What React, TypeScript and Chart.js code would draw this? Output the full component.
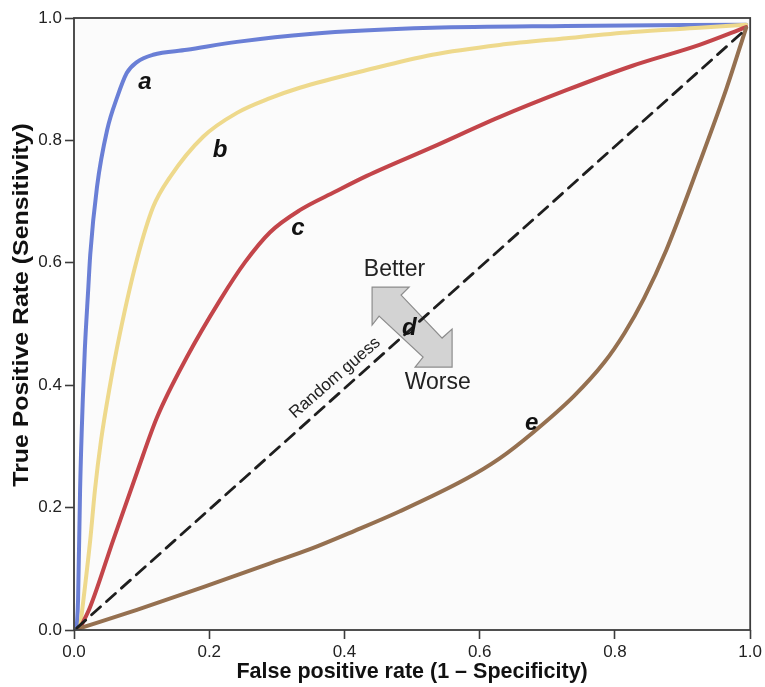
import React, { useEffect, useRef } from "react";
import { Chart, registerables } from "chart.js";

Chart.register(...registerables);

// Tick values / labels
const tickValues = [0, 0.2, 0.4, 0.6, 0.8, 1.0];
const tickLabels = ["0.0", "0.2", "0.4", "0.6", "0.8", "1.0"];

// Curve a (blue)
const fprA = [0.004, 0.006, 0.009, 0.013, 0.016, 0.021, 0.024, 0.034, 0.049, 0.064, 0.078, 0.093, 0.117, 0.167, 0.241, 0.349, 0.53, 0.728, 0.994];
const tprA = [0.003, 0.049, 0.229, 0.376, 0.458, 0.556, 0.613, 0.724, 0.817, 0.871, 0.91, 0.928, 0.94, 0.948, 0.961, 0.974, 0.984, 0.987, 0.989];

// Curve b (yellow)
const fprB = [0.009, 0.024, 0.031, 0.04, 0.052, 0.068, 0.093, 0.117, 0.142, 0.191, 0.241, 0.29, 0.334, 0.433, 0.53, 0.629, 0.728, 0.826, 0.925, 0.994];
const tprB = [0.003, 0.147, 0.229, 0.31, 0.392, 0.485, 0.605, 0.691, 0.74, 0.806, 0.845, 0.869, 0.886, 0.915, 0.94, 0.956, 0.967, 0.977, 0.984, 0.989];

// Curve c (red)
const fprC = [0.009, 0.024, 0.058, 0.093, 0.123, 0.167, 0.216, 0.253, 0.29, 0.334, 0.386, 0.433, 0.53, 0.629, 0.728, 0.826, 0.925, 0.994];
const tprC = [0.003, 0.038, 0.147, 0.257, 0.348, 0.446, 0.539, 0.601, 0.65, 0.686, 0.716, 0.742, 0.789, 0.838, 0.882, 0.922, 0.956, 0.985];

// Curve e (brown)
const fprE = [0.009, 0.093, 0.191, 0.29, 0.349, 0.415, 0.482, 0.58, 0.629, 0.678, 0.74, 0.784, 0.814, 0.843, 0.876, 0.925, 0.965, 0.994];
const tprE = [0.003, 0.033, 0.07, 0.109, 0.132, 0.162, 0.194, 0.247, 0.28, 0.322, 0.383, 0.437, 0.485, 0.542, 0.621, 0.763, 0.885, 0.984];

// Random guess line (d)
const fprD = [0.004, 0.994];
const tprD = [0.003, 0.982];

// Annotations (data coordinates)
const curveLabels = ["a", "b", "c", "d", "e"];
const curveLabelX = [0.105, 0.216, 0.331, 0.496, 0.677];
const curveLabelY = [0.895, 0.784, 0.657, 0.493, 0.337];
const arrowCenter = [0.5, 0.495];
const betterPos = [0.474, 0.588];
const worsePos = [0.538, 0.404];
const randomGuessPos = [0.386, 0.412];

const xTitle = "False positive rate (1 – Specificity)";
const yTitle = "True Positive Rate (Sensitivity)";

const toPoints = (xs: number[], ys: number[]) => xs.map((x, i) => ({ x, y: ys[i] }));

const FONT = "'Liberation Sans', Arial, Helvetica, sans-serif";

const annotPlugin = {
  id: "annot",
  beforeDraw(chart: any) {
    const { ctx, chartArea } = chart;
    const { left, top, right, bottom } = chartArea;
    ctx.save();
    ctx.fillStyle = "#ffffff";
    ctx.fillRect(0, 0, chart.width, chart.height);
    ctx.fillStyle = "#fbfbfb";
    ctx.fillRect(left, top, right - left, bottom - top);
    ctx.restore();
  },
  beforeDatasetsDraw(chart: any) {
    const { ctx, scales } = chart;
    const cx = scales.x.getPixelForValue(arrowCenter[0]);
    const cy = scales.y.getPixelForValue(arrowCenter[1]);
    const shape = [
      [-40, -40], [-3, -40], [-11, -32], [30, 11], [40, 2], [40, 40],
      [3, 40], [11, 30], [-33, -11], [-40, -2],
    ];
    ctx.save();
    ctx.beginPath();
    shape.forEach(([dx, dy], i) => {
      if (i === 0) ctx.moveTo(cx + dx, cy + dy);
      else ctx.lineTo(cx + dx, cy + dy);
    });
    ctx.closePath();
    ctx.fillStyle = "#d3d3d3";
    ctx.fill();
    ctx.strokeStyle = "#8c8c8c";
    ctx.lineWidth = 1.2;
    ctx.stroke();
    ctx.restore();
  },
  afterDatasetsDraw(chart: any) {
    const { ctx, scales } = chart;
    const px = (v: number) => scales.x.getPixelForValue(v);
    const py = (v: number) => scales.y.getPixelForValue(v);
    ctx.save();
    ctx.fillStyle = "#111";
    ctx.textAlign = "center";
    ctx.textBaseline = "middle";
    ctx.font = `italic bold 24px ${FONT}`;
    curveLabels.forEach((t, i) => {
      ctx.fillText(t, px(curveLabelX[i]), py(curveLabelY[i]));
    });
    ctx.font = `23px ${FONT}`;
    ctx.fillStyle = "#222";
    ctx.fillText("Better", px(betterPos[0]), py(betterPos[1]));
    ctx.fillText("Worse", px(worsePos[0]), py(worsePos[1]));
    ctx.translate(px(randomGuessPos[0]), py(randomGuessPos[1]));
    ctx.rotate((-41 * Math.PI) / 180);
    ctx.font = `17px ${FONT}`;
    ctx.fillText("Random guess", 0, 0);
    ctx.restore();
  },
  afterDraw(chart: any) {
    const { ctx, chartArea } = chart;
    const { left, top, right, bottom } = chartArea;
    ctx.save();
    ctx.strokeStyle = "#3c3c3c";
    ctx.lineWidth = 1.8;
    ctx.strokeRect(left, top, right - left, bottom - top);
    // y-axis title (stretched along its length like the reference)
    ctx.translate(22, (top + bottom) / 2 - 19);
    ctx.rotate(-Math.PI / 2);
    ctx.scale(1.13, 1);
    ctx.fillStyle = "#111";
    ctx.textAlign = "center";
    ctx.textBaseline = "middle";
    ctx.font = `bold 22px ${FONT}`;
    ctx.fillText(yTitle, 0, 0);
    ctx.restore();
  },
};

export default function App() {
  const ref = useRef<HTMLCanvasElement>(null);
  useEffect(() => {
    if (!ref.current) return;
    const lineDs = (label: string, xs: number[], ys: number[], color: string, width: number, dash: number[] = []) => ({
      label,
      data: toPoints(xs, ys),
      borderColor: color,
      backgroundColor: color,
      borderWidth: width,
      borderDash: dash,
      pointRadius: 0,
      fill: false,
      cubicInterpolationMode: "monotone" as const,
      borderCapStyle: "round" as const,
    });
    const tickConf = {
      color: "#222",
      font: { family: FONT, size: 17 },
      padding: 3,
      autoSkip: false,
      maxRotation: 0,
      callback: (v: any) => {
        const i = tickValues.findIndex((t) => Math.abs(t - v) < 1e-9);
        return i >= 0 ? tickLabels[i] : "";
      },
    };
    const gridConf = {
      drawOnChartArea: false,
      drawTicks: true,
      tickLength: 9,
      tickColor: "#3c3c3c",
      tickWidth: 1.6,
    };
    const setTicks = (scale: any) => {
      scale.ticks = tickValues.map((v) => ({ value: v }));
    };
    const chart = new Chart(ref.current, {
      type: "line",
      data: {
        datasets: [
          lineDs("Random guess", fprD, tprD, "#1e1e1e", 2.8, [12, 8]),
          lineDs("e", fprE, tprE, "#957050", 4),
          lineDs("c", fprC, tprC, "#c3454a", 4),
          lineDs("b", fprB, tprB, "#eed98c", 4),
          lineDs("a", fprA, tprA, "#6a7fd6", 4),
        ],
      },
      options: {
        animation: false,
        responsive: false,
        layout: { padding: { top: 18, right: 14, left: 0, bottom: 0 } },
        plugins: { legend: { display: false }, tooltip: { enabled: false } },
        scales: {
          x: {
            type: "linear",
            min: 0,
            max: 1,
            afterBuildTicks: setTicks,
            afterFit: (s: any) => { s.height = 57; },
            ticks: tickConf,
            grid: gridConf,
            border: { display: false },
            title: {
              display: true,
              text: xTitle,
              color: "#111",
              font: { family: FONT, size: 21.5, weight: "bold" },
              padding: { top: 0, bottom: 2 },
            },
          },
          y: {
            type: "linear",
            min: 0,
            max: 1,
            afterBuildTicks: setTicks,
            afterFit: (s: any) => { s.width = 74; },
            ticks: tickConf,
            grid: gridConf,
            border: { display: false },
            title: { display: false },
          },
        },
      },
      plugins: [annotPlugin],
    } as any);
    return () => chart.destroy();
  }, []);
  return (
    <div style={{ position: "absolute", left: 0, top: 0, width: 765, height: 687 }}>
      <canvas ref={ref} width={765} height={687} style={{ display: "block" }} />
    </div>
  );
}
